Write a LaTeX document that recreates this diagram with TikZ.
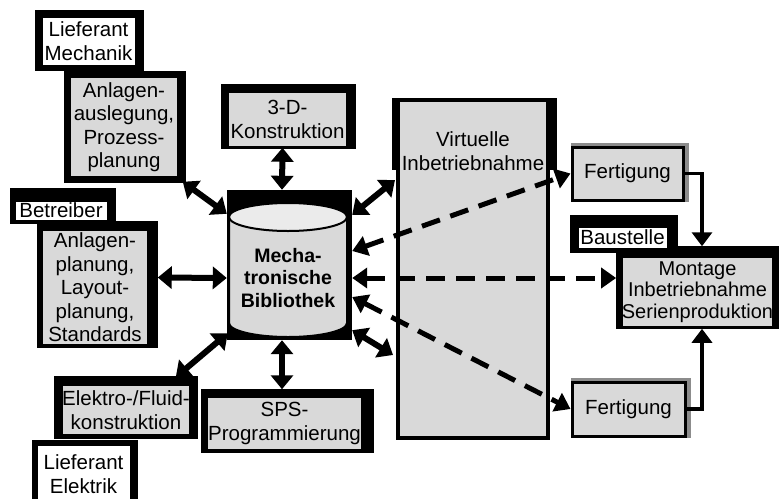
\documentclass[tikz,border=0pt]{standalone}
\usepackage{fontspec}
\setmainfont{Liberation Sans}
\usetikzlibrary{arrows.meta,backgrounds}

\tikzset{
  every node/.style={inner sep=0pt,align=center,font=\fontsize{20.5}{23.5}\selectfont},
  gbox/.style={draw,line width=1.5pt,fill=black!15},
  wbox/.style={draw,line width=1pt,fill=white},
  fbox/.style={draw,line width=3pt,fill=black!15},
  arr/.style={line width=6pt,{Triangle[width=22pt,length=14pt]}-{Triangle[width=22pt,length=14pt]}},
  darr/.style={line width=5pt,dash pattern=on 19pt off 11pt,{Triangle[width=20pt,length=15pt]}-{Triangle[width=20pt,length=15pt]}},
  conn/.style={line width=3.5pt,-{Triangle[width=20pt,length=14pt]}},
}

\begin{document}
\begin{tikzpicture}[x=1pt,y=-1pt,line join=miter]
  \useasboundingbox (0,0) rectangle (779,498);
  % Partner und Planungsbereiche
  \node[wbox,minimum width=93pt,minimum height=48pt] (mech) at (88.5,41) {Lieferant\\Mechanik};
  \node[gbox,minimum width=108pt,minimum height=100pt] (ausl) at (124,127) {Anlagen-\\auslegung,\\Prozess-\\planung};
  \node[gbox,minimum width=119pt,minimum height=55pt] (kons) at (287.5,119.5) {3-D-\\Konstruktion};
  \node[wbox,minimum width=92pt,minimum height=19pt] (betr) at (61,210.5) {Betreiber};
  \node[gbox,minimum width=106pt,minimum height=115pt] (plan) at (95,287.5) {Anlagen-\\planung,\\Layout-\\planung,\\Standards};
  \node[gbox,minimum width=128pt,minimum height=50pt] (elek) at (126,410) {Elektro-/Fluid-\\konstruktion};
  \node[gbox,minimum width=155pt,minimum height=53pt] (sps) at (284.5,423.5) {SPS-\\Programmierung};
  \node[wbox,minimum width=93pt,minimum height=58pt] (elik) at (83.5,474) {Lieferant\\Elektrik};
  % Bibliothek
  \node[fill=black,minimum width=125pt,minimum height=150pt] (lib) at (289.5,265) {};
  \fill[black!15] (229,217) -- (229,323) arc[start angle=180,end angle=0,x radius=59,y radius=14] -- (347,217) -- cycle;
  \draw[line width=2pt] (229,217) -- (229,323) arc[start angle=180,end angle=0,x radius=59,y radius=14] -- (347,217);
  \filldraw[fill=black!8,line width=2pt] (288,217) ellipse[x radius=59,y radius=14];
  \node[font=\bfseries\fontsize{19.5}{22.5}\selectfont] (libtxt) at (288,278) {Mecha-\\tronische\\Bibliothek};
  % Inbetriebnahme und Fertigung
  \node[draw,line width=4pt,fill=black!15,minimum width=150pt,minimum height=338pt] (virt) at (473,269) {};
  \node (virtlab) at (473,151) {Virtuelle\\Inbetriebnahme};
  \node[fbox,minimum width=111pt,minimum height=53pt] (fert1) at (627.5,173.5) {Fertigung};
  \node[wbox,minimum width=89pt,minimum height=21pt] (baus) at (622.5,237.5) {Baustelle};
  \node[gbox,minimum width=151pt,minimum height=70pt,font=\fontsize{20}{21.5}\selectfont] (mont) at (697.5,292) {Montage\\Inbetriebnahme\\Serienproduktion};
  \node[fbox,minimum width=113pt,minimum height=54pt] (fert2) at (628.5,409) {Fertigung};

  \begin{scope}[on background layer]
    \foreach \n/\ml/\mt/\mr/\mb in {mech/7/7/8/5,ausl/5/5/7/5,kons/6/7/8/1,betr/5/13/8/3,plan/4/8/9/2,elek/7/8/7/3,sps/5/7/11/2,elik/5/5/7/0,baus/8/12/10/4,mont/5/10/6/1}
      \fill ([shift={(-\ml,-\mt)}]\n.north west) rectangle ([shift={(\mr,\mb)}]\n.south east);
    \foreach \n in {fert1,fert2}
      \fill[black!45] ([shift={(0,-3)}]\n.north west) rectangle ([shift={(4,0)}]\n.south east);
    \fill ([shift={(-4,0)}]virt.north west) rectangle ([shift={(7,72)}]virt.north east);
  \end{scope}

  % Datenaustausch
  \draw[arr] ([shift={(-5,0)}]kons.south) -- ([shift={(-7.5,0)}]lib.north);
  \draw[arr] ([shift={(4,4)}]ausl.south east) -- ([shift={(0,24)}]lib.north west);
  \draw[arr] ([shift={(9,-10)}]plan.east) -- ([shift={(0,13)}]lib.west);
  \draw[arr] ([shift={(-15,-7)}]elek.north east) -- ([shift={(1,-7)}]lib.south west);
  \draw[arr] ([shift={(-7.5,0)}]lib.south) -- ([shift={(-2.5,-7)}]sps.north);
  \draw[arr] ([shift={(0,25)}]lib.north east) -- ([shift={(-1,-89)}]virt.west);
  \draw[arr] ([shift={(0,-10)}]lib.south east) -- ([shift={(-3,86)}]virt.west);
  \draw[darr] ([shift={(0,-14)}]lib.east) -- (fert1.west);
  \draw[darr] ([shift={(0,13)}]lib.east) -- ([shift={(-5,-14)}]mont.west);
  \draw[darr] ([shift={(0,32)}]lib.east) -- (fert2.west);
  \draw[conn] (fert1.east) -| ([shift={(4.5,-10)}]mont.north);
  \draw[conn] (fert2.east) -| ([shift={(4.5,1)}]mont.south);
\end{tikzpicture}
\end{document}
